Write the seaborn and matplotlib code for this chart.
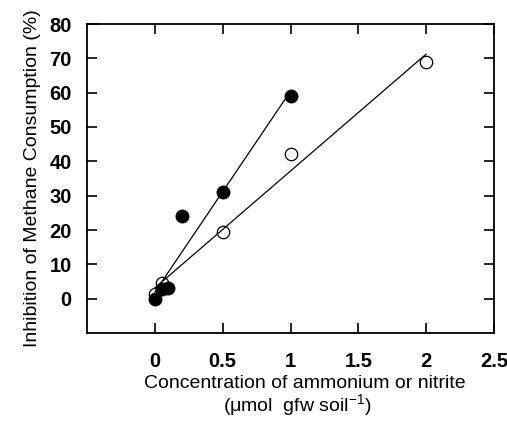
import matplotlib
matplotlib.use("Agg")
import matplotlib.pyplot as plt
import seaborn as sns
import pandas as pd

# Data
filled_x = [0.0, 0.05, 0.1, 0.2, 0.5, 1.0]
filled_y = [0.0, 2.7, 3.0, 24.0, 31.0, 59.0]
open_x = [0.0, 0.05, 0.5, 1.0, 2.0]
open_y = [1.5, 4.5, 19.5, 42.0, 69.0]
x_ticks = [0, 0.5, 1, 1.5, 2, 2.5]
x_tick_labels = ["0", "0.5", "1", "1.5", "2", "2.5"]
y_ticks = [0, 10, 20, 30, 40, 50, 60, 70, 80]

sns.set_theme(style="ticks")
plt.rcParams["font.family"] = ["Liberation Sans", "DejaVu Sans"]
plt.rcParams["text.color"] = "black"
plt.rcParams["axes.labelcolor"] = "black"

df_f = pd.DataFrame({"x": filled_x, "y": filled_y})
df_o = pd.DataFrame({"x": open_x, "y": open_y})

fig = plt.figure(figsize=(5.07, 4.30), dpi=100)
ax = fig.add_axes([87/507, 1-333/430, (494-87)/507, (333-24)/430])

sns.regplot(data=df_o, x="x", y="y", ax=ax, ci=None, truncate=True,
            scatter_kws=dict(s=80, facecolor="white", edgecolor="black",
                             linewidths=0.9, alpha=1, zorder=2),
            line_kws=dict(color="black", lw=0.9, zorder=3))
sns.regplot(data=df_f, x="x", y="y", ax=ax, ci=None, truncate=True,
            scatter_kws=dict(s=90, color="black", edgecolor="black",
                             linewidths=0.5, alpha=1, zorder=4),
            line_kws=dict(color="black", lw=0.9, zorder=3))

ax.set_xlim(-0.5, 2.5)
ax.set_ylim(-10, 80)
ax.set_xticks(x_ticks)
ax.set_xticklabels(x_tick_labels)
ax.set_yticks(y_ticks)
ax.tick_params(direction="in", length=7, width=1.2, top=True, right=True,
               labeltop=False, labelright=False, labelsize=14.5,
               colors="black", labelcolor="black")
ax.tick_params(axis="x", pad=14)
ax.tick_params(axis="y", pad=11)
for lab in ax.get_xticklabels() + ax.get_yticklabels():
    lab.set_fontweight("bold")
for sp in ax.spines.values():
    sp.set_visible(True)
    sp.set_linewidth(1.3)
    sp.set_color("black")

ax.set_xlabel("Concentration of ammonium or nitrite", fontsize=14)
ax.xaxis.set_label_coords(0.534, -0.165)
ax.xaxis.label.set_va("center")
ax.set_ylabel("Inhibition of Methane Consumption (%)", fontsize=14, labelpad=6)
fig.text(297/507, 1-406/430, r"($\mathregular{\mu}$mol  gfw soil$^{\mathregular{-1}}$)",
         ha="center", va="center", fontsize=14, color="black")

fig.savefig("out.png", dpi=100)
